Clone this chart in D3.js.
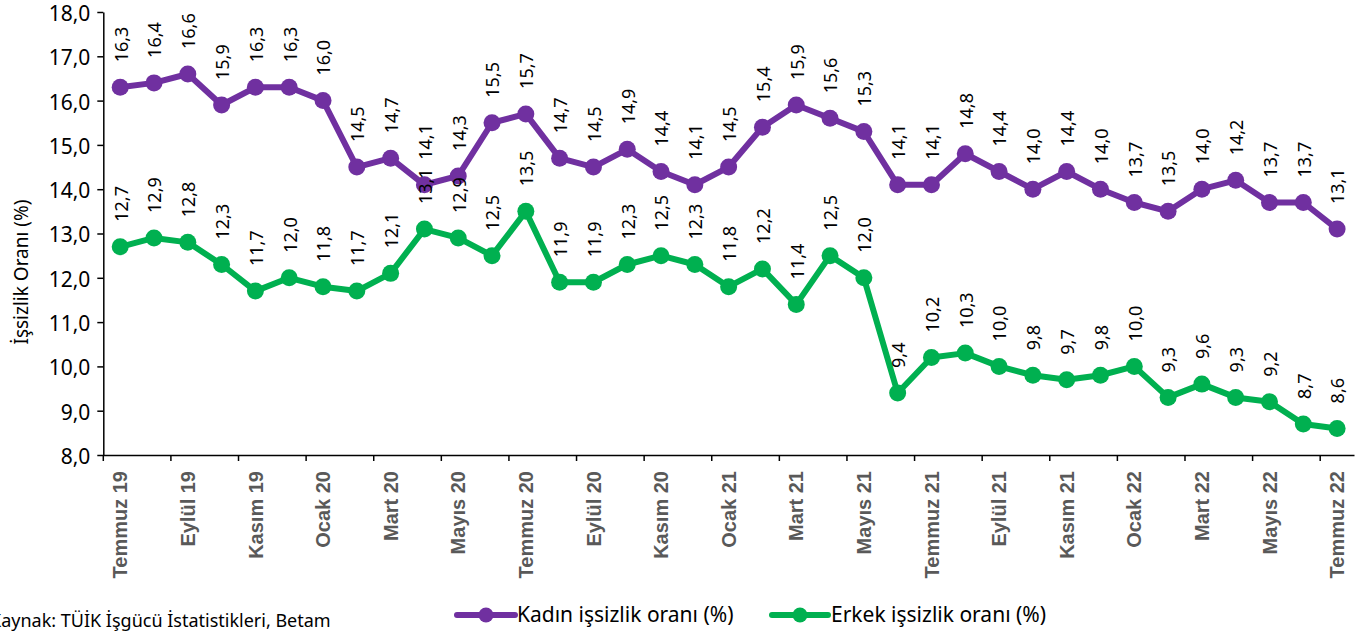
<!DOCTYPE html>
<html><head><meta charset="utf-8">
<script src="https://cdn.jsdelivr.net/npm/d3@7"></script>
<style>
body{margin:0;background:#fff;}
svg{display:block;}
</style></head>
<body>
<svg id="chart" width="1369" height="636"></svg>
<script>
const categories = ["Temmuz 19","Ağustos 19","Eylül 19","Ekim 19","Kasım 19","Aralık 19",
"Ocak 20","Şubat 20","Mart 20","Nisan 20","Mayıs 20","Haziran 20",
"Temmuz 20","Ağustos 20","Eylül 20","Ekim 20","Kasım 20","Aralık 20",
"Ocak 21","Şubat 21","Mart 21","Nisan 21","Mayıs 21","Haziran 21",
"Temmuz 21","Ağustos 21","Eylül 21","Ekim 21","Kasım 21","Aralık 21",
"Ocak 22","Şubat 22","Mart 22","Nisan 22","Mayıs 22","Haziran 22","Temmuz 22"];
const kadin = [16.3,16.4,16.6,15.9,16.3,16.3,16.0,14.5,14.7,14.1,14.3,15.5,15.7,14.7,14.5,14.9,14.4,14.1,14.5,15.4,15.9,15.6,15.3,14.1,14.1,14.8,14.4,14.0,14.4,14.0,13.7,13.5,14.0,14.2,13.7,13.7,13.1];
const erkek = [12.7,12.9,12.8,12.3,11.7,12.0,11.8,11.7,12.1,13.1,12.9,12.5,13.5,11.9,11.9,12.3,12.5,12.3,11.8,12.2,11.4,12.5,12.0,9.4,10.2,10.3,10.0,9.8,9.7,9.8,10.0,9.3,9.6,9.3,9.2,8.7,8.6];
const yTicks = [8,9,10,11,12,13,14,15,16,17,18];
const seriesNames = ["Kadın işsizlik oranı (%)","Erkek işsizlik oranı (%)"];
const yTitle = "İşsizlik Oranı (%)";
const source = "Kaynak: TÜİK İşgücü İstatistikleri, Betam";

const colors = ["#7030A0","#00B050"];
const svg = d3.select("#chart");
const x = d3.scaleBand().domain(categories).range([103.3,1354]).padding(0);
const y = d3.scaleLinear().domain([8,18]).range([455,12]);
const bw = x.bandwidth();
const cx = c => x(c) + bw/2;
const fmt = v => v.toFixed(1).replace(".", ",");
const font = "'Noto Sans', sans-serif";

// Y axis
const ya = svg.append("g").attr("transform","translate(103.3,0)")
  .call(d3.axisLeft(y).tickValues(yTicks).tickFormat(fmt).tickSize(6).tickSizeOuter(0).tickPadding(7));
ya.select(".domain").attr("stroke","#000").attr("stroke-width",1.5);
ya.selectAll(".tick line").attr("stroke","#000").attr("stroke-width",1.5);
ya.selectAll(".tick text").attr("font-family",font).attr("font-size",21).attr("fill","#000").attr("dy","0.4em");

// X axis
const xa = svg.append("g").attr("transform","translate(0,455)")
  .call(d3.axisBottom(x).tickValues(categories.filter((d,i)=>i%2===0)).tickSize(0).tickSizeOuter(0).tickPadding(0));
xa.select(".domain").attr("stroke","#000").attr("stroke-width",1.5);
xa.selectAll(".tick text")
  .attr("font-family","'Liberation Sans', Arial, sans-serif").attr("font-weight","bold")
  .attr("font-size",20).attr("fill","#595959")
  .attr("text-anchor","end").attr("transform","translate(0,16) rotate(-90)")
  .attr("x",0).attr("y",0).attr("dy","0.36em");
xa.selectAll(".tick line").remove();
svg.append("g").selectAll("line").data(categories.filter((d,i)=>i%2===0)).join("line")
  .attr("x1",d=>x(d)).attr("x2",d=>x(d)).attr("y1",455).attr("y2",461)
  .attr("stroke","#000").attr("stroke-width",1.5);

// Y title
svg.append("text").attr("transform","translate(21,272) rotate(-90)")
  .attr("text-anchor","middle").attr("dy","0.35em")
  .attr("font-family",font).attr("font-size",19).attr("fill","#000").text(yTitle);

// Lines
const data = [kadin, erkek];
const line = d3.line().x((d,i)=>cx(categories[i])).y(d=>y(d));
data.forEach((s,k)=>{
  svg.append("path").datum(s).attr("d",line).attr("fill","none")
    .attr("stroke",colors[k]).attr("stroke-width",6).attr("stroke-linejoin","round");
  svg.append("g").selectAll("circle").data(s).join("circle")
    .attr("cx",(d,i)=>cx(categories[i])).attr("cy",d=>y(d)).attr("r",8.5).attr("fill",colors[k]);
});
// Labels
data.forEach((s,k)=>{
  svg.append("g").selectAll("text").data(s).join("text")
    .attr("transform",(d,i)=>`translate(${cx(categories[i])+1},${y(d)-25}) rotate(-90)`)
    .attr("dy","0.35em").attr("text-anchor","start")
    .attr("font-family",font).attr("font-size",18).attr("fill","#000").text(fmt);
});

// Legend
const leg = [{x1:457,x2:515,tx:517},{x1:772,x2:828,tx:831}];
leg.forEach((l,k)=>{
  svg.append("line").attr("x1",l.x1).attr("x2",l.x2).attr("y1",615).attr("y2",615)
    .attr("stroke",colors[k]).attr("stroke-width",6).attr("stroke-linecap","round");
  svg.append("circle").attr("cx",(l.x1+l.x2)/2).attr("cy",615).attr("r",7.5).attr("fill",colors[k]);
  svg.append("text").attr("x",l.tx).attr("y",615).attr("dy","0.35em")
    .attr("font-family",font).attr("font-size",21).attr("fill","#000").text(seriesNames[k]);
});
svg.append("text").attr("x",-10).attr("y",621).attr("dy","0.35em")
  .attr("font-family",font).attr("font-size",18).attr("fill","#000").text(source);
</script>
</body></html>
